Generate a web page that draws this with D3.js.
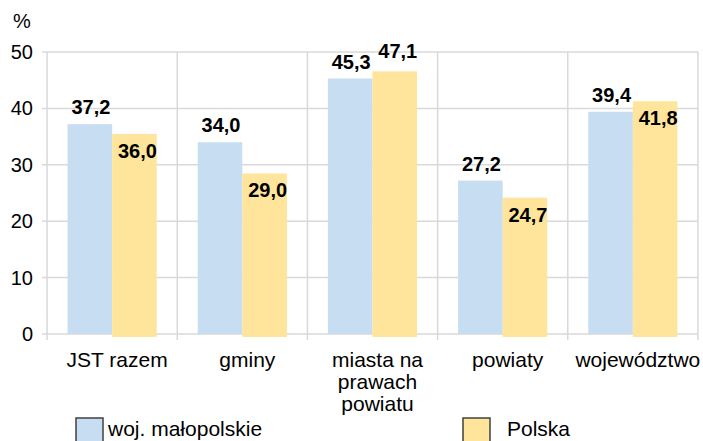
<!DOCTYPE html>
<html>
<head>
<meta charset="utf-8">
<script src="https://cdn.jsdelivr.net/npm/d3@7"></script>
<style>
  body { margin: 0; background: #fff; }
  svg { display: block; font-family: Arial, "Liberation Sans", sans-serif; }
  .grid line { stroke: #d9d9d9; stroke-width: 1.5; }
  .value-label { font-weight: bold; font-size: 20px; fill: #000; }
</style>
</head>
<body>
<svg id="chart" width="703" height="441"></svg>
<script>
const categories = ['JST razem', 'gminy', 'miasta na prawach powiatu', 'powiaty', 'województwo'];
const seriesNames = ['woj. małopolskie', 'Polska'];
const malopolskie = [37.2, 34.0, 45.3, 27.2, 39.4];
const polska = [36.0, 29.0, 47.1, 24.7, 41.8];
const yTicks = [0, 10, 20, 30, 40, 50];

const colors = ['#c7ddf1', '#ffe59b'];
const width = 703;
const height = 441;
const margin = { top: 52, right: 5, bottom: 107, left: 47 };

const svg = d3.select('#chart');

const x0 = d3.scaleBand()
  .domain(categories)
  .range([margin.left, width - margin.right])
  .paddingInner(0.315)
  .paddingOuter(0.158);

const x1 = d3.scaleBand()
  .domain(seriesNames)
  .range([0, x0.bandwidth()]);

const y = d3.scaleLinear()
  .domain([0, 50])
  .range([height - margin.bottom, margin.top]);

// horizontal grid lines
svg.append('g')
  .attr('class', 'grid')
  .selectAll('line')
  .data(yTicks)
  .join('line')
  .attr('x1', margin.left - 5)
  .attr('x2', width - margin.right)
  .attr('y1', d => y(d))
  .attr('y2', d => y(d));

// vertical separators between categories
const gap = (x0.step() - x0.bandwidth()) / 2;
const bounds = categories.map(c => x0(c) - gap).concat([x0(categories[categories.length - 1]) + x0.bandwidth() + gap]);
svg.append('g')
  .attr('class', 'grid')
  .selectAll('line')
  .data(bounds)
  .join('line')
  .attr('x1', d => d)
  .attr('x2', d => d)
  .attr('y1', margin.top)
  .attr('y2', y(0) + 6);

// y tick labels
svg.append('g')
  .selectAll('text')
  .data(yTicks)
  .join('text')
  .attr('x', 33)
  .attr('y', d => y(d) + 7)
  .attr('text-anchor', 'end')
  .attr('font-size', 20)
  .text(d => d);

svg.append('text')
  .attr('x', 13)
  .attr('y', 28)
  .attr('font-size', 20)
  .text('%');

// bars
const series = [malopolskie, polska];
series.forEach((values, s) => {
  // the yellow series sits a few pixels lower in the original
  const shift = s === 1 ? 3 : 0;
  svg.append('g')
    .attr('transform', 'translate(0,' + shift + ')')
    .selectAll('rect')
    .data(values)
    .join('rect')
    .attr('x', (d, i) => x0(categories[i]) + x1(seriesNames[s]))
    .attr('width', x1.bandwidth())
    .attr('y', d => y(d))
    .attr('height', d => y(0) - y(d))
    .attr('fill', colors[s]);
});

// value labels: blue above the bar, yellow inside unless it is the tallest
malopolskie.forEach((d, i) => {
  svg.append('text')
    .attr('class', 'value-label')
    .attr('x', x0(categories[i]) + x1(seriesNames[0]) + x1.bandwidth() / 2 + 1)
    .attr('y', y(d) - 10)
    .attr('text-anchor', 'middle')
    .text(d3.format('.1f')(d).replace('.', ','));
});
polska.forEach((d, i) => {
  const inside = d < 46;
  svg.append('text')
    .attr('class', 'value-label')
    .attr('x', x0(categories[i]) + x1(seriesNames[1]) + x1.bandwidth() / 2 + 3)
    .attr('y', inside ? y(d) + 27 : y(d) - 10)
    .attr('text-anchor', 'middle')
    .text(d3.format('.1f')(d).replace('.', ','));
});

// category labels
const catLines = {
  'miasta na prawach powiatu': ['miasta na', 'prawach', 'powiatu']
};
categories.forEach(c => {
  const lines = catLines[c] || [c];
  const cx = x0(c) + x0.bandwidth() / 2 + 5;
  const t = svg.append('text')
    .attr('x', cx)
    .attr('y', y(0) + 33)
    .attr('text-anchor', 'middle')
    .attr('font-size', 21);
  lines.forEach((l, k) => {
    t.append('tspan')
      .attr('x', cx)
      .attr('dy', k === 0 ? 0 : 22)
      .text(l);
  });
});

// legend
const legendX = [76, 463];
seriesNames.forEach((name, s) => {
  const g = svg.append('g').attr('transform', 'translate(' + legendX[s] + ',418)');
  g.append('rect')
    .attr('width', 27)
    .attr('height', 26)
    .attr('fill', colors[s])
    .attr('stroke', '#404040')
    .attr('stroke-width', 1.5);
  g.append('text')
    .attr('x', s === 0 ? 32 : 44)
    .attr('y', 18)
    .attr('font-size', 21)
    .text(name);
});
</script>
</body>
</html>
